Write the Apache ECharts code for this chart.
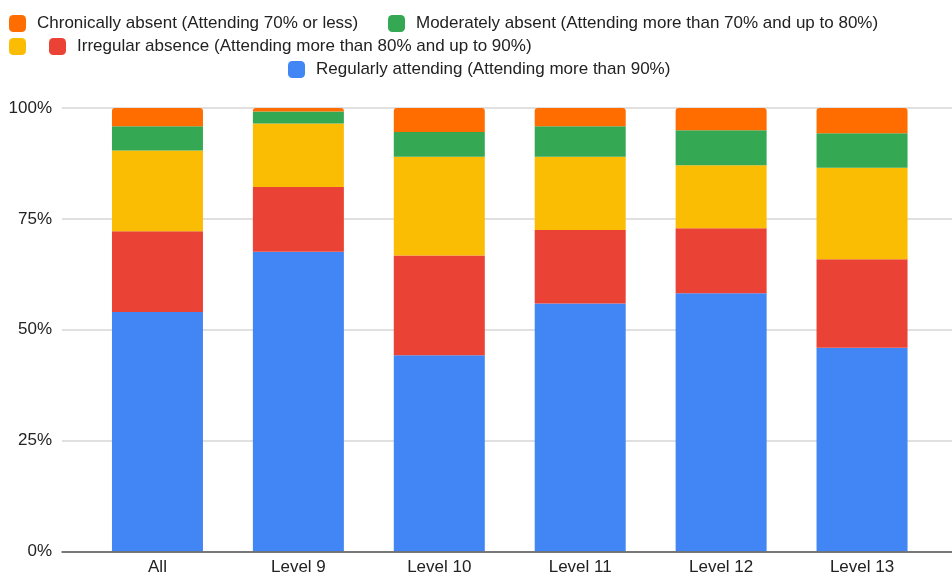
<!DOCTYPE html>
<html>
<head>
<meta charset="utf-8">
<script src="https://cdn.jsdelivr.net/npm/echarts@6/dist/echarts.min.js"></script>
<style>
html,body{margin:0;padding:0;background:#fff;}
#chart{width:952px;height:574px;}
</style>
</head>
<body>
<div id="chart"></div>
<script>
var categories = ['All', 'Level 9', 'Level 10', 'Level 11', 'Level 12', 'Level 13'];
var regularlyAttending = [54.0, 67.6, 44.2, 55.9, 58.2, 45.9];
var irregularAbsence = [18.2, 14.6, 22.5, 16.6, 14.7, 20.0];
var unlabeled = [18.2, 14.3, 22.3, 16.5, 14.2, 20.6];
var moderatelyAbsent = [5.5, 2.7, 5.6, 6.9, 7.9, 7.8];
var chronicallyAbsent = [4.1, 0.8, 5.4, 4.1, 5.0, 5.7];
var yTicks = [0, 25, 50, 75, 100];

var names = {
  chronic: 'Chronically absent (Attending 70% or less)',
  moderate: 'Moderately absent (Attending more than 70% and up to 80%)',
  yellow: ' ',
  irregular: 'Irregular absence (Attending more than 80% and up to 90%)',
  regular: 'Regularly attending (Attending more than 90%)'
};
var colors = {
  chronic: '#ff6d01', moderate: '#34a853', yellow: '#fbbc04',
  irregular: '#ea4335', regular: '#4285f4'
};
var font = 'Liberation Sans, Arial, sans-serif';

function legendAt(name, left, top) {
  return {
    data: [name], left: left, top: top, orient: 'horizontal',
    itemWidth: 17, itemHeight: 17, padding: 0, selectedMode: false,
    icon: 'roundRect',
    textStyle: { fontFamily: font, fontSize: 17, color: '#222', padding: [0, 0, 0, 6] }
  };
}

function barSeries(key, data, top) {
  return {
    name: names[key], type: 'bar', stack: 'total', data: data,
    xAxisIndex: 0, yAxisIndex: 0, barWidth: 91,
    itemStyle: { color: colors[key], borderRadius: top ? [3, 3, 0, 0] : 0 },
    emphasis: { disabled: true }, z: 3
  };
}

var chart = echarts.init(document.getElementById('chart'), null, { renderer: 'canvas' });
chart.setOption({
  animation: false,
  legend: [
    legendAt(names.chronic, 9, 15),
    legendAt(names.moderate, 388, 15),
    legendAt(names.yellow, 9, 38),
    legendAt(names.irregular, 49, 38),
    legendAt(names.regular, 288, 61)
  ],
  grid: [
    { left: 87, right: 19.5, top: 108, bottom: 22.7, containLabel: false, outerBoundsMode: 'none' },
    { left: 62, right: 0, top: 108, bottom: 22.7, containLabel: false, outerBoundsMode: 'none' }
  ],
  xAxis: [
    { type: 'category', gridIndex: 0, data: categories,
      axisLine: { show: false }, axisTick: { show: false },
      axisLabel: { fontFamily: font, fontSize: 17, color: '#222', margin: 8 } },
    { type: 'category', gridIndex: 1, data: [''],
      axisLine: { show: true, lineStyle: { color: '#555', width: 1.5 } },
      axisTick: { show: false }, axisLabel: { show: false }, z: 5 }
  ],
  yAxis: [
    { type: 'value', gridIndex: 0, min: 0, max: 100, interval: 25,
      axisLabel: { show: false }, splitLine: { show: false },
      axisLine: { show: false }, axisTick: { show: false } },
    { type: 'value', gridIndex: 1, min: yTicks[0], max: yTicks[yTicks.length - 1], interval: 25,
      axisLine: { show: false }, axisTick: { show: false },
      splitLine: { show: true, lineStyle: { color: '#d6d6d6', width: 1.5 } },
      axisLabel: { fontFamily: font, fontSize: 17, color: '#222', margin: 10,
        formatter: function (v) { return v + '%'; } } }
  ],
  series: [
    barSeries('regular', regularlyAttending, false),
    barSeries('irregular', irregularAbsence, false),
    barSeries('yellow', unlabeled, false),
    barSeries('moderate', moderatelyAbsent, false),
    barSeries('chronic', chronicallyAbsent, true)
  ]
});
</script>
</body>
</html>
